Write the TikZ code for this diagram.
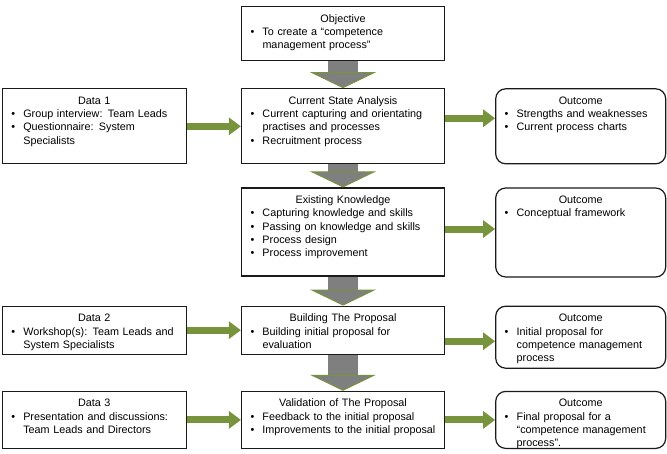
\documentclass[tikz,border=0pt]{standalone}
\usepackage{fontspec}
\setmainfont{Liberation Sans}
\usepackage{xcolor}
\usepackage{tikz}
\usetikzlibrary{arrows.meta,positioning}
\definecolor{cmolive}{HTML}{77933C}
\definecolor{cmgray}{HTML}{7F7F7F}
\definecolor{cmline}{HTML}{1A1A1A}
\setlength{\parindent}{0pt}
\newcommand{\cmhead}[1]{{\centering #1\par}}
\newcommand{\cmitem}[1]{\par\makebox[15pt][l]{\hspace{3pt}\textbullet}#1}
\newcommand{\cmbr}{\newline\hspace*{15pt}}
\tikzset{%
  cmbox/.style={%
    draw=cmline,
    line width=1.2pt,
    fill=white,
    inner xsep=6pt,
    inner ysep=6.5pt,
    text height=9pt,
    text width=191pt,
    align=left,
    font=\fontsize{10.8}{13.3}\selectfont
  },
  cmdata/.style={%
    cmbox,
    text width=172pt
  },
  cmoutcome/.style={%
    cmbox,
    text width=158pt,
    rounded corners=10pt
  },
  cmflow/.style={-{Triangle[width=66pt,length=16pt,line width=1pt,color=cmolive,fill=cmgray]},line width=30pt,draw=cmgray},
  cmfeed/.style={-{Triangle[width=17pt,length=12pt]},line width=7pt,draw=cmolive}
}
\begin{document}
\begin{tikzpicture}[x=1pt,y=-1pt]
    \useasboundingbox (0,0) rectangle (667,453);
    % middle column
    \node[cmbox,anchor=north,text depth=32pt] (objective) at (343,6) {\cmhead{Objective}\cmitem{To create a “competence\cmbr management process”}};
    \node[cmbox,below=27pt of objective,text depth=53pt] (current) {\cmhead{Current State Analysis}\cmitem{Current capturing and orientating\cmbr practises and processes}\cmitem{Recruitment process}};
    \node[cmbox,below=23pt of current,text depth=66pt] (existing) {\cmhead{Existing Knowledge}\cmitem{Capturing knowledge and skills}\cmitem{Passing on knowledge and skills}\cmitem{Process design}\cmitem{Process improvement}};
    \node[cmbox,below=29pt of existing,text depth=26pt] (building) {\cmhead{Building The Proposal}\cmitem{Building initial proposal for\cmbr evaluation}};
    \node[cmbox,below=36pt of building,text depth=35pt] (validation) {\cmhead{Validation of The Proposal}\cmitem{Feedback to the initial proposal}\cmitem{Improvements to the initial proposal}};

    % data
    \node[cmdata,left=54pt of current,text depth=53pt] (data1) {\cmhead{Data 1}\cmitem{Group interview: Team Leads}\cmitem{Questionnaire: System\cmbr Specialists}};
    \node[cmdata,left=54pt of building,text depth=26pt] (data2) {\cmhead{Data 2}\cmitem{Workshop(s): Team Leads and\cmbr System Specialists}};
    \node[cmdata,left=54pt of validation,text depth=35pt] (data3) {\cmhead{Data 3}\cmitem{Presentation and discussions:\cmbr Team Leads and Directors}};

    % outcomes
    \node[cmoutcome,right=50pt of current.north east,anchor=north west,text depth=53pt] (outcome1) {\cmhead{Outcome}\cmitem{Strengths and weaknesses}\cmitem{Current process charts}};
    \node[cmoutcome,right=50pt of existing.north east,anchor=north west,text depth=67pt] (outcome2) {\cmhead{Outcome}\cmitem{Conceptual framework}};
    \node[cmoutcome,right=50pt of building.north east,anchor=north west,text depth=40pt] (outcome3) {\cmhead{Outcome}\cmitem{Initial proposal for\cmbr competence management\cmbr process}};
    \node[cmoutcome,right=50pt of validation.north east,anchor=north west,text depth=35pt] (outcome4) {\cmhead{Outcome}\cmitem{Final proposal for a\cmbr “competence management\cmbr process”.}};

    \draw[cmflow] (objective) -- (current);
    \draw[cmflow] (current) -- (existing);
    \draw[cmflow] (existing) -- (building);
    \draw[cmflow] (building) -- (validation);

    \draw[cmfeed] (data1) -- (current);
    \draw[cmfeed] (data2) -- (building);
    \draw[cmfeed] (data3) -- (validation);
    \draw[cmfeed] ([yshift=8pt]current.east) -- ([yshift=8pt]current.east -| outcome1.west);
    \draw[cmfeed] ([yshift=3pt]existing.east) -- ([yshift=3pt]existing.east -| outcome2.west);
    \draw[cmfeed] ([yshift=-11pt]building.east) -- ([yshift=-11pt]building.east -| outcome3.west);
    \draw[cmfeed] (validation) -- (outcome4);
  \end{tikzpicture}
\end{document}
